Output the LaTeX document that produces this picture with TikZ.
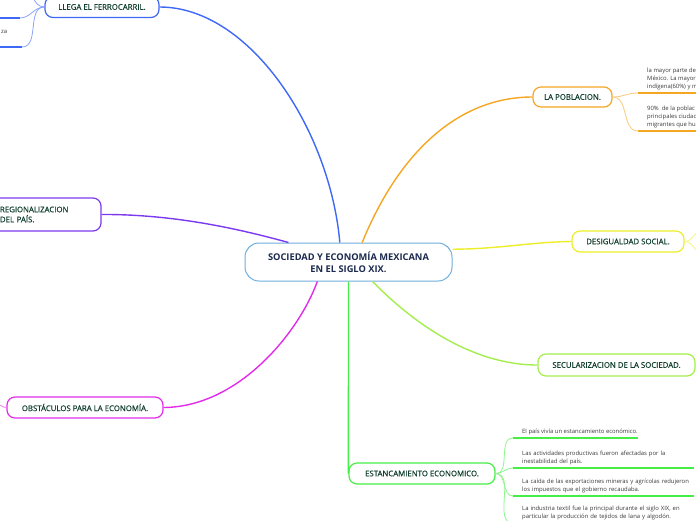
\documentclass[tikz,border=0pt]{standalone}
\usepackage{fontspec}
\setmainfont{Open Sans}
\newfontfamily\branchfont{Open Sans}[FakeBold=0.4]
\usepackage{tikz}
\usetikzlibrary{positioning}
\definecolor{mmnavy}{HTML}{1B2A4E}
\definecolor{mmtext}{HTML}{12402F}
\definecolor{mmleaf}{HTML}{3A3A3A}
\definecolor{mmcenter}{HTML}{6FAEDC}
\definecolor{mmblue}{HTML}{3F68F4}
\definecolor{mmviolet}{HTML}{7C3AF0}
\definecolor{mmmagenta}{HTML}{E22CEA}
\definecolor{mmorange}{HTML}{F5A623}
\definecolor{mmyellow}{HTML}{EDED2A}
\definecolor{mmlime}{HTML}{A3EE4C}
\definecolor{mmgreen}{HTML}{45EE45}

\begin{document}
\begin{tikzpicture}[x=1pt, y=-1pt,
    node distance=0pt and 9pt,
    topic/.style={draw=mmcenter, line width=1pt, rounded corners=14pt, fill=white, font=\fontsize{9.3}{12}\selectfont\bfseries, text=mmnavy, align=center, minimum width=207pt, minimum height=38pt},
    branch/.style={draw=#1, line width=1.2pt, rounded corners=8pt, fill=white, font=\branchfont\fontsize{7.8}{10}\selectfont, text=mmtext, minimum height=21pt},
    limb/.style={draw=#1, line width=1.4pt},
    twig/.style={draw=#1!60, line width=0.8pt},
    rule/.style={draw=#1, line width=1.4pt},
    leaf/.style={font=\fontsize{5.9}{8}\selectfont, text=mmleaf, align=left, inner xsep=0pt, inner ysep=3pt}
  ]
    \useasboundingbox (0,0) rectangle (696,520);
    \clip (0,0) rectangle (696,520);
    \coordinate (lim) at (-5,0);
    \coordinate (rim) at (700,0);

    % main topic and branches
    \node[topic] (soc) at (348.5,262) {SOCIEDAD Y ECONOMÍA MEXICANA\\EN EL SIGLO XIX.};
    \node[branch=mmblue, minimum width=114pt] (ferro) at (102,7) {LLEGA EL FERROCARRIL.};
    \node[branch=mmviolet, minimum width=113pt, minimum height=33pt, text width=89pt, align=left] (region) at (44.5,214.5) {REGIONALIZACION\\DEL PAÍS.};
    \node[branch=mmmagenta, minimum width=156pt] (obst) at (85,407.5) {OBSTÁCULOS PARA LA ECONOMÍA.};
    \node[branch=mmorange, minimum width=79pt, minimum height=20pt] (pobl) at (572.5,97) {LA POBLACION.};
    \node[branch=mmyellow, minimum width=112pt] (desig) at (628,241.5) {DESIGUALDAD SOCIAL.};
    \node[branch=mmlime, minimum width=157pt, minimum height=22pt] (secul) at (616.5,365) {SECULARIZACION DE LA SOCIEDAD.};
    \node[branch=mmgreen, minimum width=146pt] (estan) at (422,473.5) {ESTANCAMIENTO ECONOMICO.};

    \draw[limb=mmblue] (soc.114) .. controls (330,130) and (250,7) .. (ferro.east);
    \draw[limb=mmviolet] (soc.162) .. controls (250,232) and (180,214) .. (region.east);
    \draw[limb=mmmagenta] (soc.212) .. controls (300,330) and (240,407) .. (obst.east);
    \draw[limb=mmorange] (soc.55) .. controls (400,150) and (460,97) .. (pobl.west);
    \draw[limb=mmyellow] (soc.7) .. controls (500,249) and (530,242) .. (desig.west);
    \draw[limb=mmlime] (soc.321) .. controls (410,320) and (470,365) .. (secul.west);
    \draw[limb=mmgreen] (soc.south) -- (estan.west);

    % ferrocarril
    \coordinate (f0) at (33,-3);
    \coordinate (f1) at (20,18);
    \coordinate (f2) at (22,47);
    \draw[twig=mmblue] (ferro.west) to[out=180, in=-70] (f0);
    \draw[twig=mmblue] (ferro.west) to[out=180, in=0] (f1);
    \draw[twig=mmblue] (ferro.west) to[out=180, in=0] (f2);
    \draw[rule=mmblue] (f1) -- (f1 -| lim);
    \draw[rule=mmblue] (f2) -- (f2 -| lim);
    \node[leaf, anchor=base west] (fz) at (1,33) {za};

    % obstaculos, desigualdad
    \coordinate (o1) at (-4,404);
    \draw[twig=mmmagenta] (obst.west) to[out=180, in=0] (o1);
    \coordinate (d1) at (700,230);
    \coordinate (d2) at (700,253);
    \draw[twig=mmyellow] (desig.east) to[out=0, in=210] (d1);
    \draw[twig=mmyellow] (desig.east) to[out=0, in=150] (d2);

    % poblacion
    \coordinate (p1) at (638,93);
    \coordinate (p2) at (638,131);
    \draw[twig=mmorange] (pobl.east) to[out=0, in=180] (p1);
    \draw[twig=mmorange] (pobl.east) to[out=0, in=180] (p2);
    \node[leaf, above right=of p1] (pl1) {la mayor parte de\\México. La mayor\\indígena(60\%) y m};
    \node[leaf, above right=of p2] (pl2) {90\%\ \ de la poblac\\principales ciudad\\migrantes que hu};
    \draw[rule=mmorange] (p1) -- (p1 -| rim);
    \draw[rule=mmorange] (p2) -- (p2 -| rim);

    % estancamiento
    \coordinate (e1) at (513,438);
    \coordinate (e2) at (513,468);
    \coordinate (e3) at (513,496);
    \coordinate (e4) at (513,523);
    \foreach \k in {1,...,4}
      \draw[twig=mmgreen] (estan.east) to[out=0, in=180] (e\k);
    \node[leaf, above right=of e1] (el1) {El país vivía un estancamiento económico.};
    \node[leaf, text width=172pt, above right=of e2] (el2) {Las actividades productivas fueron afectadas por la\\inestabilidad del país.};
    \node[leaf, text width=172pt, above right=of e3] (el3) {La caída de las exportaciones mineras y agrícolas redujeron\\los impuestos que el gobierno recaudaba.};
    \node[leaf, text width=172pt, above right=of e4] (el4) {La industria textil fue la principal durante el siglo XIX, en\\particular la producción de tejidos de lana y algodón.};
    \foreach \k in {1,...,4}
      \draw[rule=mmgreen] (e\k) -- (e\k -| el\k.east);
  \end{tikzpicture}
\end{document}
